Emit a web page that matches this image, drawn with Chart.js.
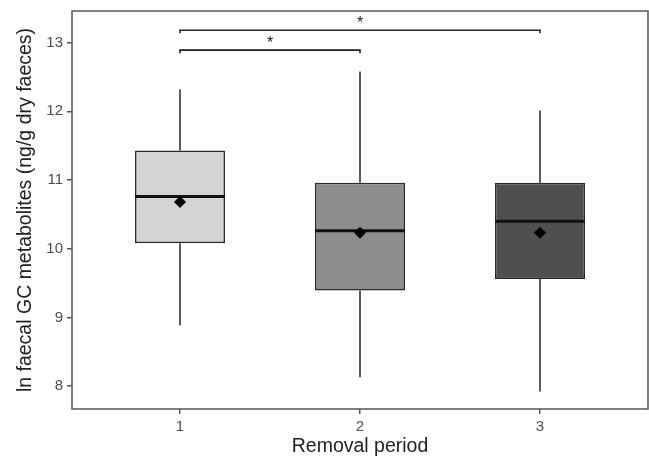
<!DOCTYPE html>
<html>
<head>
<meta charset="utf-8">
<script src="https://cdn.jsdelivr.net/npm/chart.js@4"></script>
<style>
  html, body { margin: 0; padding: 0; background: #fff; overflow: hidden; }
  canvas { display: block; }
</style>
</head>
<body>
<canvas id="boxChart" width="649" height="458"></canvas>
<script>
// Box plot data
const periods = [1, 2, 3];
const whiskerLow = [8.88, 8.13, 7.92];
const q1 = [10.08, 9.39, 9.56];
const medians = [10.76, 10.26, 10.40];
const q3 = [11.43, 10.96, 10.96];
const whiskerHigh = [12.32, 12.58, 12.01];
const means = [10.68, 10.23, 10.23];
const boxColors = ['#d4d4d4', '#8d8d8d', '#4f4f4f'];

const yTicks = [8, 9, 10, 11, 12, 13];

// significance brackets
const bracketFrom = [1, 1];
const bracketTo = [2, 3];
const bracketY = [12.89, 13.18];
const bracketLabel = ['*', '*'];

const FONT = '"Liberation Sans", Arial, sans-serif';

const boxExtras = {
  id: 'boxExtras',
  afterDatasetDraw(chart, args) {
    if (args.index !== 0) return;
    const ctx = chart.ctx;
    const x = chart.scales.x, y = chart.scales.y;
    ctx.save();
    periods.forEach((p, i) => {
      const px = x.getPixelForValue(p);
      const half = args.meta.data[i].width / 2;
      // whiskers
      ctx.strokeStyle = '#333';
      ctx.lineWidth = 1.6;
      ctx.beginPath();
      ctx.moveTo(px, y.getPixelForValue(q3[i]));
      ctx.lineTo(px, y.getPixelForValue(whiskerHigh[i]));
      ctx.moveTo(px, y.getPixelForValue(q1[i]));
      ctx.lineTo(px, y.getPixelForValue(whiskerLow[i]));
      ctx.stroke();
      // median
      ctx.strokeStyle = '#111';
      ctx.lineWidth = 3;
      ctx.beginPath();
      ctx.moveTo(px - half, y.getPixelForValue(medians[i]));
      ctx.lineTo(px + half, y.getPixelForValue(medians[i]));
      ctx.stroke();
    });
    ctx.restore();
  },
  afterDraw(chart) {
    const ctx = chart.ctx;
    const a = chart.chartArea;
    const x = chart.scales.x, y = chart.scales.y;
    ctx.save();
    // frame
    ctx.strokeStyle = '#555';
    ctx.lineWidth = 1.5;
    ctx.strokeRect(a.left, a.top, a.right - a.left, a.bottom - a.top);
    // brackets
    ctx.strokeStyle = '#222';
    ctx.lineWidth = 1.6;
    ctx.fillStyle = '#222';
    ctx.font = '16px ' + FONT;
    ctx.textAlign = 'center';
    ctx.textBaseline = 'alphabetic';
    bracketFrom.forEach((f, i) => {
      const x1 = x.getPixelForValue(f);
      const x2 = x.getPixelForValue(bracketTo[i]);
      const by = y.getPixelForValue(bracketY[i]);
      ctx.beginPath();
      ctx.moveTo(x1, by + 3);
      ctx.lineTo(x1, by);
      ctx.lineTo(x2, by);
      ctx.lineTo(x2, by + 3);
      ctx.stroke();
      ctx.fillText(bracketLabel[i], (x1 + x2) / 2, by - 2);
    });
    ctx.restore();
  }
};

new Chart(document.getElementById('boxChart'), {
  type: 'bar',
  data: {
    datasets: [
      {
        type: 'bar',
        data: periods.map((p, i) => ({ x: p, y: [q1[i], q3[i]] })),
        backgroundColor: boxColors,
        borderColor: '#2a2a2a',
        borderWidth: 1.6,
        borderSkipped: false,
        barPercentage: 0.5,
        categoryPercentage: 1,
        order: 2
      },
      {
        type: 'line',
        data: periods.map((p, i) => ({ x: p, y: means[i] })),
        showLine: false,
        pointStyle: 'rectRot',
        pointRadius: 6,
        pointBackgroundColor: '#000',
        pointBorderColor: '#000',
        pointBorderWidth: 0,
        order: 1
      }
    ]
  },
  options: {
    responsive: false,
    animation: false,
    layout: { autoPadding: false, padding: { top: 11, right: 1, left: 0, bottom: 0 } },
    plugins: { legend: { display: false }, tooltip: { enabled: false } },
    scales: {
      x: {
        type: 'linear',
        min: 0.4,
        max: 3.6,
        offset: false,
        afterBuildTicks: s => { s.ticks = periods.map(v => ({ value: v })); },
        afterFit: s => { s.height = 49; s.paddingLeft = 0; s.paddingRight = 0; },
        grid: { drawOnChartArea: false, offset: false, tickLength: 5, color: '#555', lineWidth: 1.5 },
        border: { display: false },
        ticks: { color: '#4d4d4d', font: { family: FONT, size: 15 }, padding: 4 },
        title: {
          display: true,
          text: 'Removal period',
          color: '#222',
          font: { family: FONT, size: 19.5 },
          padding: { top: 0, bottom: 0 }
        }
      },
      y: {
        min: 7.666,
        max: 13.46,
        afterBuildTicks: s => { s.ticks = yTicks.map(v => ({ value: v })); },
        afterFit: s => { s.width = 72; s.paddingTop = 0; s.paddingBottom = 0; },
        grid: { drawOnChartArea: false, tickLength: 5, color: '#555', lineWidth: 1.5 },
        border: { display: false },
        ticks: { color: '#4d4d4d', font: { family: FONT, size: 15 }, padding: 4 },
        title: {
          display: true,
          text: 'ln faecal GC metabolites (ng/g dry faeces)',
          color: '#222',
          font: { family: FONT, size: 19.5 },
          padding: { top: 14, bottom: 0 }
        }
      }
    }
  },
  plugins: [boxExtras]
});
</script>
</body>
</html>
